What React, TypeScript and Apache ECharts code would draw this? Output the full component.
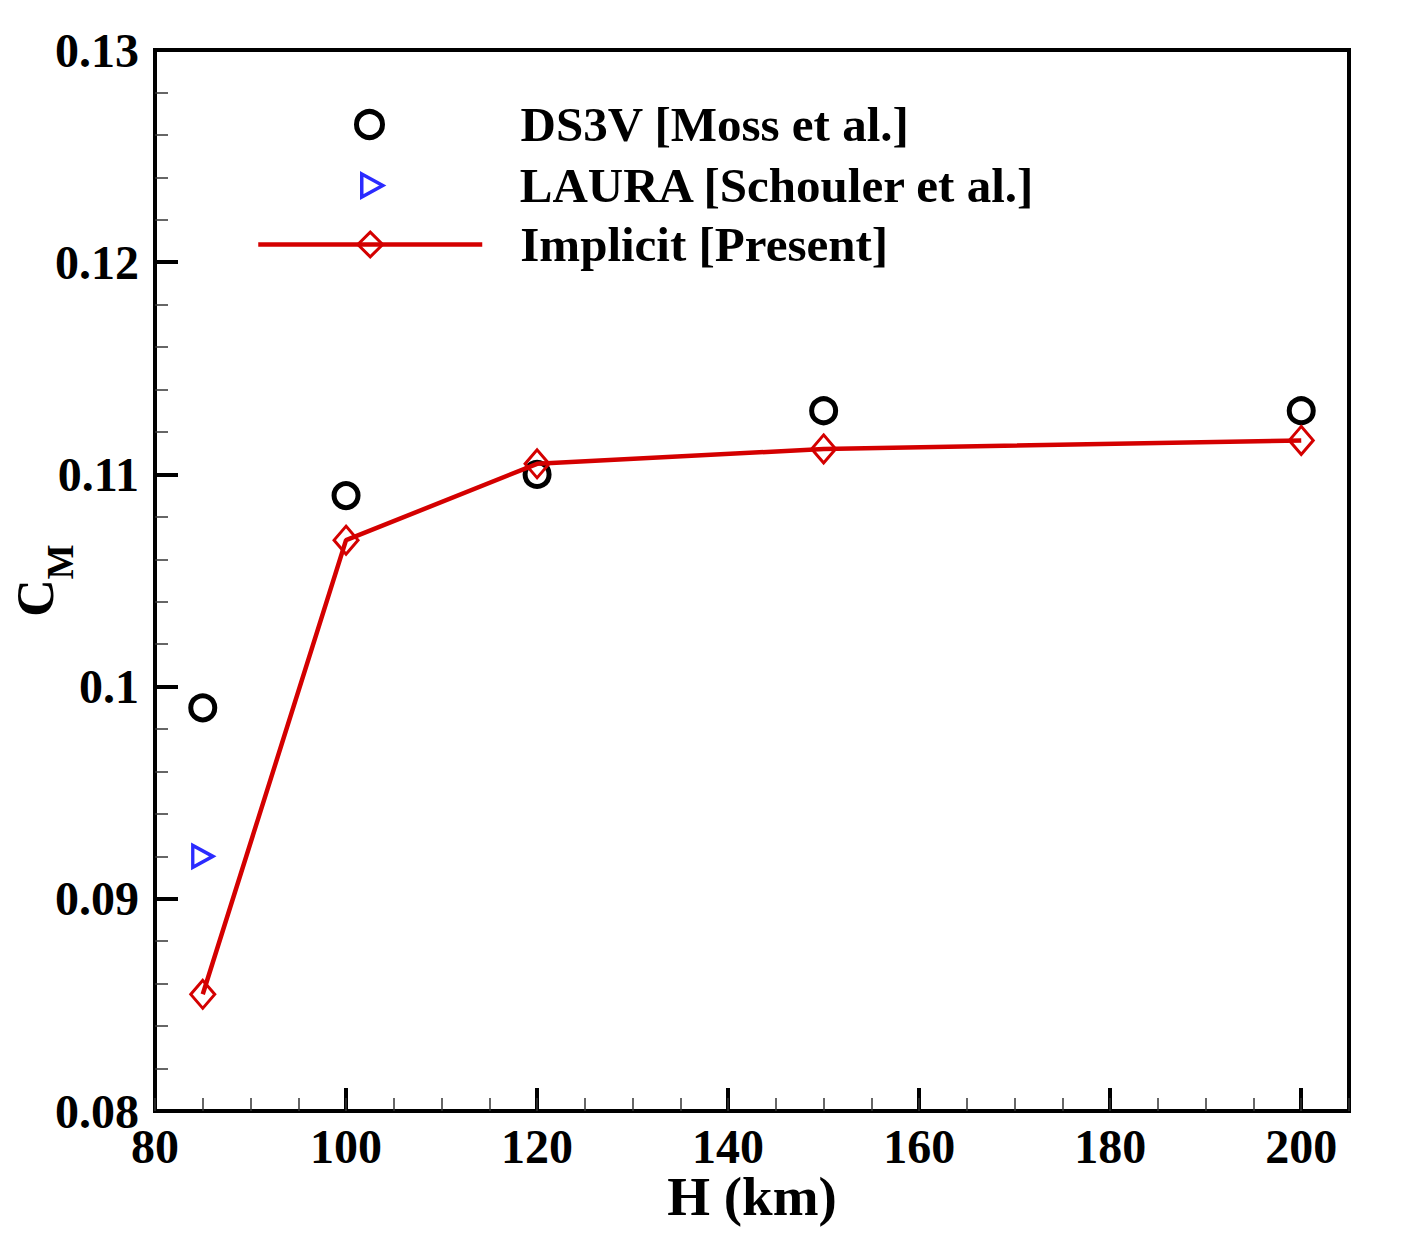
import React, { useEffect, useRef } from "react";
import * as echarts from "echarts";

const FONT = "'Liberation Serif', 'Times New Roman', serif";
const RED = "#d40000";
const BLUE = "#2b2bff";

const seriesNames = ["DS3V [Moss et al.]", "LAURA [Schouler et al.]", "Implicit [Present]"];

const ds3vAltitudes = [85, 100, 120, 150, 200];
const ds3vValues = [0.099, 0.109, 0.11, 0.113, 0.113];

const lauraAltitudes = [85];
const lauraValues = [0.092];

const implicitAltitudes = [85, 100, 120, 150, 200];
const implicitValues = [0.0855, 0.1069, 0.1105, 0.1112, 0.1116];

const xMin = 80;
const xMax = 205;
const xMajor = 20;
const xMinor = 5;
const yMin = 0.08;
const yMax = 0.13;
const yMajor = 0.01;

const pairs = (xs: number[], ys: number[]) => xs.map((x, i) => [x, ys[i]]);

const legendText = (size: number, padLeft: number) => ({
  rich: {
    t: {
      fontFamily: FONT,
      fontWeight: "bold",
      fontSize: size,
      color: "#000",
      padding: [0, 0, 0, padLeft],
    },
  },
});

export default function App() {
  const ref = useRef<HTMLDivElement>(null);

  useEffect(() => {
    document.body.style.margin = "0";
    if (!ref.current) return;
    const chart = echarts.init(ref.current, undefined, { renderer: "svg" });

    const labelStyle = {
      color: "#000",
      fontFamily: FONT,
      fontWeight: "bold",
      fontSize: 48,
    };

    const legendBase = {
      orient: "vertical",
      padding: 0,
      selectedMode: false,
      symbolKeepAspect: true,
      formatter: (name: string) => `{t|${name}}`,
    };

    const TEXT_X = 518;

    const option = {
      animation: false,
      backgroundColor: "#fff",
      grid: {
        left: 155,
        right: 57,
        top: 50,
        bottom: 139,
        show: true,
        borderColor: "#000",
        borderWidth: 4,
        backgroundColor: "transparent",
        containLabel: false,
        outerBoundsMode: "none",
      },
      legend: [
        {
          ...legendBase,
          left: 354,
          top: 100,
          itemWidth: 26,
          itemHeight: 26,
          data: [seriesNames[0]],
          itemStyle: { borderWidth: 5 },
          textStyle: legendText(49, TEXT_X - (354 + 26 + 5)),
        },
        {
          ...legendBase,
          left: 360,
          top: 161,
          itemWidth: 21,
          itemHeight: 23,
          data: [
            {
              name: seriesNames[1],
              icon: "path://M0,0L21,11.5L0,23Z",
            },
          ],
          itemStyle: { borderWidth: 3.5, color: "rgba(255,255,255,0)", borderColor: BLUE },
          textStyle: legendText(49, TEXT_X - (360 + 21 + 5)),
        },
        {
          ...legendBase,
          left: 256,
          top: 220,
          itemWidth: 224,
          itemHeight: 31,
          data: [seriesNames[2]],
          itemStyle: { borderWidth: 3 },
          lineStyle: { width: 4.5 },
          textStyle: legendText(49, TEXT_X - (256 + 224 + 5)),
        },
      ],
      xAxis: [
        {
          type: "value",
          min: xMin,
          max: xMax,
          interval: xMajor,
          position: "bottom",
          axisLine: { show: true, onZero: false, lineStyle: { color: "#000", width: 4 } },
          axisTick: { show: true, inside: true, length: 23, lineStyle: { color: "#000", width: 4 } },
          axisLabel: { show: true, margin: 11, showMaxLabel: false, ...labelStyle },
          splitLine: { show: false },
          name: "H (km)",
          nameLocation: "middle",
          nameGap: 61,
          nameMoveOverlap: false,
          nameTextStyle: { color: "#000", fontFamily: FONT, fontWeight: "bold", fontSize: 55, lineHeight: 48 },
        },
        {
          type: "value",
          min: xMin,
          max: xMax,
          interval: xMinor,
          position: "bottom",
          axisLine: { show: false, onZero: false },
          axisTick: { show: true, inside: true, length: 13, lineStyle: { color: "#333", width: 1.5 } },
          axisLabel: { show: false },
          splitLine: { show: false },
        },
      ],
      yAxis: {
        type: "value",
        min: yMin,
        max: yMax,
        interval: yMajor,
        axisLine: { show: true, onZero: false, lineStyle: { color: "#000", width: 4 } },
        axisTick: { show: true, inside: true, length: 23, lineStyle: { color: "#000", width: 4 } },
        minorTick: { show: true, splitNumber: 5, length: 13, lineStyle: { color: "#333", width: 1.5 } },
        axisLabel: { show: true, margin: 16, ...labelStyle },
        splitLine: { show: false },
        minorSplitLine: { show: false },
        name: "{c|C}{m|M}",
        nameLocation: "middle",
        nameRotate: 90,
        nameGap: 76,
        nameMoveOverlap: false,
        nameTextStyle: {
          rich: {
            c: { fontFamily: FONT, fontWeight: "bold", fontSize: 52, color: "#000", verticalAlign: "top", lineHeight: 52 },
            m: { fontFamily: FONT, fontWeight: "bold", fontSize: 37, color: "#000", verticalAlign: "bottom", lineHeight: 70 },
          },
        },
      },
      series: [
        {
          name: seriesNames[0],
          type: "scatter",
          xAxisIndex: 0,
          data: pairs(ds3vAltitudes, ds3vValues),
          symbol: "circle",
          symbolSize: 24,
          itemStyle: { color: "rgba(255,255,255,0)", borderColor: "#000", borderWidth: 5, opacity: 1 },
          z: 3,
        },
        {
          name: seriesNames[1],
          type: "scatter",
          xAxisIndex: 0,
          data: pairs(lauraAltitudes, lauraValues),
          symbol: "triangle",
          symbolRotate: -90,
          symbolSize: [22, 20],
          itemStyle: { color: "rgba(255,255,255,0)", borderColor: BLUE, borderWidth: 3.5, opacity: 1 },
          z: 3,
        },
        {
          name: seriesNames[2],
          type: "line",
          xAxisIndex: 0,
          data: pairs(implicitAltitudes, implicitValues),
          symbol: "diamond",
          symbolSize: [24, 28],
          showSymbol: true,
          itemStyle: { color: "rgba(255,255,255,0)", borderColor: RED, borderWidth: 3, opacity: 1 },
          lineStyle: { color: RED, width: 4.5 },
          z: 4,
        },
      ],
    };

    chart.setOption(option as any);
    return () => chart.dispose();
  }, []);

  return <div ref={ref} style={{ width: 1406, height: 1250 }} />;
}
